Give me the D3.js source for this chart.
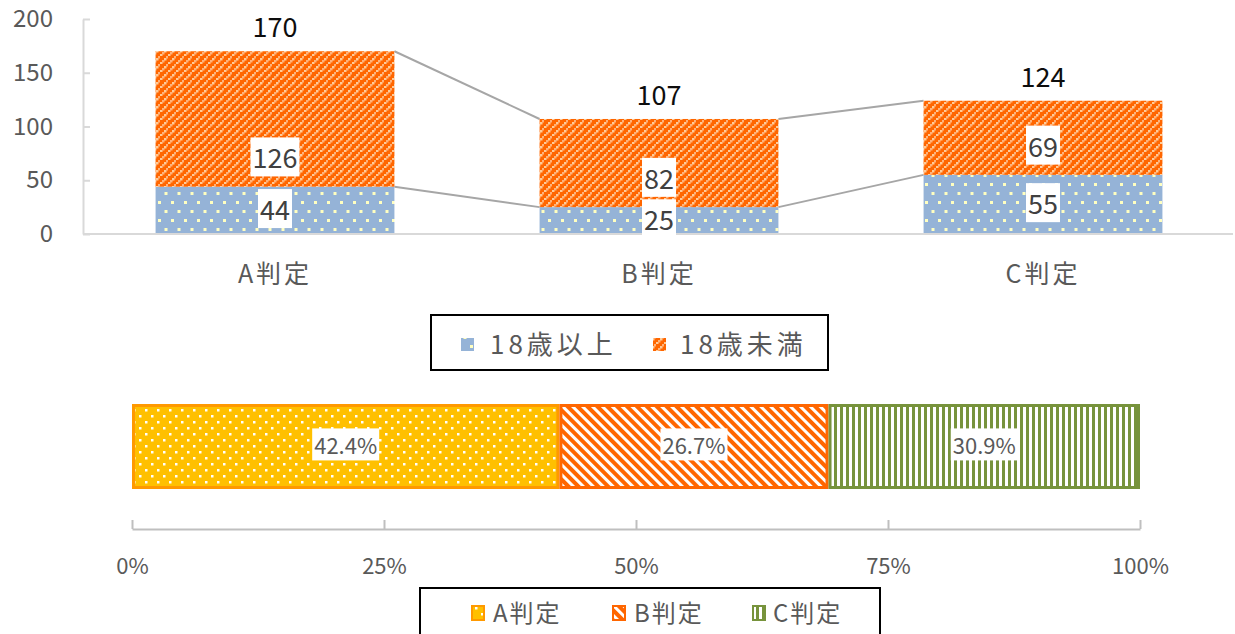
<!DOCTYPE html>
<html>
<head>
<meta charset="utf-8">
<script src="https://cdn.jsdelivr.net/npm/d3@7"></script>
<style>
  body { margin: 0; background: #fff; }
  text { font-family: "Noto Sans CJK JP", "Noto Sans", sans-serif; }
</style>
</head>
<body>
<script>
// data
var categories = ["A判定", "B判定", "C判定"];
var over18 = [44, 25, 55];
var under18 = [126, 82, 69];
var shares = [42.4, 26.7, 30.9];
var seriesNames = ["18歳以上", "18歳未満"];
var yTicks = [0, 50, 100, 150, 200];
var pctTicks = [0, 0.25, 0.5, 0.75, 1];

var w = 1235, h = 634;

var svg = d3.select("body").append("svg")
    .attr("width", w)
    .attr("height", h)
    .style("background", "#fff");

// ---- fill patterns (Excel style)
var defs = svg.append("defs");

var pBlue = defs.append("pattern").attr("id", "patBlue")
    .attr("patternUnits", "userSpaceOnUse").attr("width", 13).attr("height", 18);
pBlue.append("rect").attr("width", 13).attr("height", 18).attr("fill", "#95B3D7");
pBlue.append("rect").attr("x", 2).attr("y", 3).attr("width", 3).attr("height", 3).attr("fill", "#FFFFC0");
pBlue.append("rect").attr("x", 8.5).attr("y", 12).attr("width", 3).attr("height", 3).attr("fill", "#FFFFC0");

var pOr = defs.append("pattern").attr("id", "patOrange")
    .attr("patternUnits", "userSpaceOnUse").attr("width", 8).attr("height", 8);
pOr.append("rect").attr("width", 8).attr("height", 8).attr("fill", "#FF6600");
[[0, 6, "#FFCC99"], [2, 4, "#FFB27A"], [4, 2, "#FFCC99"], [6, 0, "#FFB27A"]].forEach(function(d){
    pOr.append("rect").attr("x", d[0]).attr("y", d[1]).attr("width", 2.5).attr("height", 2.5).attr("fill", d[2]);
});

var pA = defs.append("pattern").attr("id", "patA")
    .attr("patternUnits", "userSpaceOnUse").attr("width", 12).attr("height", 12);
pA.append("rect").attr("width", 12).attr("height", 12).attr("fill", "#FFC000");
pA.append("rect").attr("x", 1).attr("y", 1).attr("width", 2.5).attr("height", 2.5).attr("fill", "#fff");
pA.append("rect").attr("x", 7).attr("y", 7).attr("width", 2.5).attr("height", 2.5).attr("fill", "#fff");

var pB = defs.append("pattern").attr("id", "patB")
    .attr("patternUnits", "userSpaceOnUse").attr("width", 7).attr("height", 7)
    .attr("patternTransform", "rotate(-45)");
pB.append("rect").attr("width", 7).attr("height", 7).attr("fill", "#fff");
pB.append("rect").attr("width", 4).attr("height", 7).attr("fill", "#FF6600");

var pC = defs.append("pattern").attr("id", "patC")
    .attr("patternUnits", "userSpaceOnUse").attr("width", 6).attr("height", 6);
pC.append("rect").attr("width", 6).attr("height", 6).attr("fill", "#fff");
pC.append("rect").attr("width", 3).attr("height", 6).attr("fill", "#77933C");

// ---- top stacked column chart
var x = d3.scaleBand().domain(categories).range([83, 1235])
    .paddingInner(0.378).paddingOuter(0.189);
var y = d3.scaleLinear().domain([0, 200]).range([234, 19]);

var rows = categories.map(function(c, i){
    return {cat: c, over: over18[i], under: under18[i]};
});
var stack = d3.stack().keys(["over", "under"])(rows);
var fills = ["url(#patBlue)", "url(#patOrange)"];

// connector lines between columns
var conn = svg.append("g").attr("class", "connectors");
stack.forEach(function(layer){
    for (var i = 0; i < layer.length - 1; i++) {
        conn.append("line")
            .attr("x1", x(categories[i]) + x.bandwidth())
            .attr("y1", y(layer[i][1]))
            .attr("x2", x(categories[i + 1]))
            .attr("y2", y(layer[i + 1][1]))
            .attr("stroke", "#A6A6A6")
            .attr("stroke-width", 2);
    }
});

svg.append("g").selectAll("g")
    .data(stack).join("g")
    .attr("fill", function(d, i){ return fills[i]; })
    .selectAll("rect")
    .data(function(d){ return d; }).join("rect")
    .attr("x", function(d){ return x(d.data.cat); })
    .attr("y", function(d){ return y(d[1]); })
    .attr("width", x.bandwidth())
    .attr("height", function(d){ return y(d[0]) - y(d[1]); });

// y axis
var yAxis = svg.append("g")
    .attr("transform", "translate(83,0)")
    .call(d3.axisLeft(y).tickValues(yTicks).tickSize(-7).tickSizeOuter(0).tickPadding(30));
yAxis.select(".domain").attr("stroke", "#D9D9D9").attr("stroke-width", 2);
yAxis.selectAll(".tick line").attr("stroke", "#D9D9D9").attr("stroke-width", 2);
yAxis.selectAll("text").attr("fill", "#595959").style("font-size", "24px");

// x baseline + category labels
svg.append("line")
    .attr("x1", 83).attr("x2", 1233).attr("y1", y(0)).attr("y2", y(0))
    .attr("stroke", "#D9D9D9").attr("stroke-width", 2);
var xAxis = svg.append("g")
    .attr("transform", "translate(0," + y(0) + ")")
    .call(d3.axisBottom(x).tickSize(0).tickPadding(31));
xAxis.select(".domain").remove();
xAxis.selectAll("text").attr("fill", "#595959")
    .style("font-size", "25px").style("letter-spacing", "3px");

// label helper with white box
function boxedLabel(g, cx, cy, txt, size, color) {
    var t = g.append("text")
        .attr("x", cx).attr("y", cy).attr("dy", "0.36em")
        .attr("text-anchor", "middle")
        .attr("fill", color)
        .style("font-size", size + "px")
        .text(txt);
    var b = t.node().getBBox();
    g.insert("rect", "text")
        .attr("x", b.x - 2).attr("y", b.y)
        .attr("width", b.width + 4).attr("height", b.height)
        .attr("fill", "#fff");
}

var labels = svg.append("g");
rows.forEach(function(r, i){
    var cx = x(r.cat) + x.bandwidth() / 2;
    var lg = labels.append("g");
    boxedLabel(lg, cx, (y(0) + y(r.over)) / 2, r.over, 27, "#404040");
    var lg2 = labels.append("g");
    boxedLabel(lg2, cx, y(r.over) - 28, r.under, 27, "#404040");
    labels.append("text")
        .attr("x", cx).attr("y", y(r.over + r.under) - 14)
        .attr("text-anchor", "middle")
        .attr("fill", "#0D0D0D")
        .style("font-size", "27px")
        .text(r.over + r.under);
});

// legend 1
var leg1 = svg.append("g");
leg1.append("rect").attr("x", 431).attr("y", 315).attr("width", 397).attr("height", 55)
    .attr("fill", "#fff").attr("stroke", "#000").attr("stroke-width", 2);
[[461, 490], [653, 680]].forEach(function(p, i){
    leg1.append("rect").attr("x", p[0]).attr("y", 338).attr("width", 13).attr("height", 13)
        .attr("fill", fills[i]);
    leg1.append("text").attr("x", p[1]).attr("y", 354)
        .attr("fill", "#595959").style("font-size", "26px").style("letter-spacing", "4px")
        .text(seriesNames[i]);
});

// ---- bottom 100% bar
var xs = d3.scaleLinear().domain([0, 1]).range([132, 1140]);
var shareFills = ["url(#patA)", "url(#patB)", "url(#patC)"];
var shareStroke = ["#FF9900", "#FF6600", "#77933C"];
var cum = 0;
var segs = shares.map(function(s, i){
    var d = {cat: categories[i], v: s, x0: cum / 100, x1: (cum + s) / 100};
    cum += s;
    return d;
});

var bar = svg.append("g");
bar.selectAll("rect").data(segs).join("rect")
    .attr("x", function(d){ return xs(d.x0) + 1.5; })
    .attr("y", 405.5)
    .attr("width", function(d){ return xs(d.x1) - xs(d.x0) - 3; })
    .attr("height", 82)
    .attr("fill", function(d, i){ return shareFills[i]; })
    .attr("stroke", function(d, i){ return shareStroke[i]; })
    .attr("stroke-width", 3);

segs.forEach(function(d){
    var g = bar.append("g");
    boxedLabel(g, (xs(d.x0) + xs(d.x1)) / 2, 446.5, d.v.toFixed(1) + "%", 22, "#595959");
});

var pAxis = svg.append("g")
    .attr("transform", "translate(0,529)")
    .call(d3.axisBottom(xs).tickValues(pctTicks).tickSize(-9).tickSizeOuter(0)
        .tickPadding(29).tickFormat(d3.format(".0%")));
pAxis.select(".domain").attr("stroke", "#BFBFBF").attr("stroke-width", 2);
pAxis.selectAll(".tick line").attr("stroke", "#BFBFBF").attr("stroke-width", 2);
pAxis.selectAll("text").attr("fill", "#595959").style("font-size", "22px");

// legend 2
var leg2 = svg.append("g");
leg2.append("rect").attr("x", 420).attr("y", 588).attr("width", 460).attr("height", 60)
    .attr("fill", "#fff").attr("stroke", "#000").attr("stroke-width", 2);
[[471, 493], [612, 634], [752, 773]].forEach(function(p, i){
    leg2.append("rect").attr("x", p[0] + 1).attr("y", 606).attr("width", 12).attr("height", 14)
        .attr("fill", shareFills[i]).attr("stroke", shareStroke[i]).attr("stroke-width", 2);
    leg2.append("text").attr("x", p[1]).attr("y", 622)
        .attr("fill", "#595959").style("font-size", "24px").style("letter-spacing", "2px")
        .text(categories[i]);
});
</script>
</body>
</html>
